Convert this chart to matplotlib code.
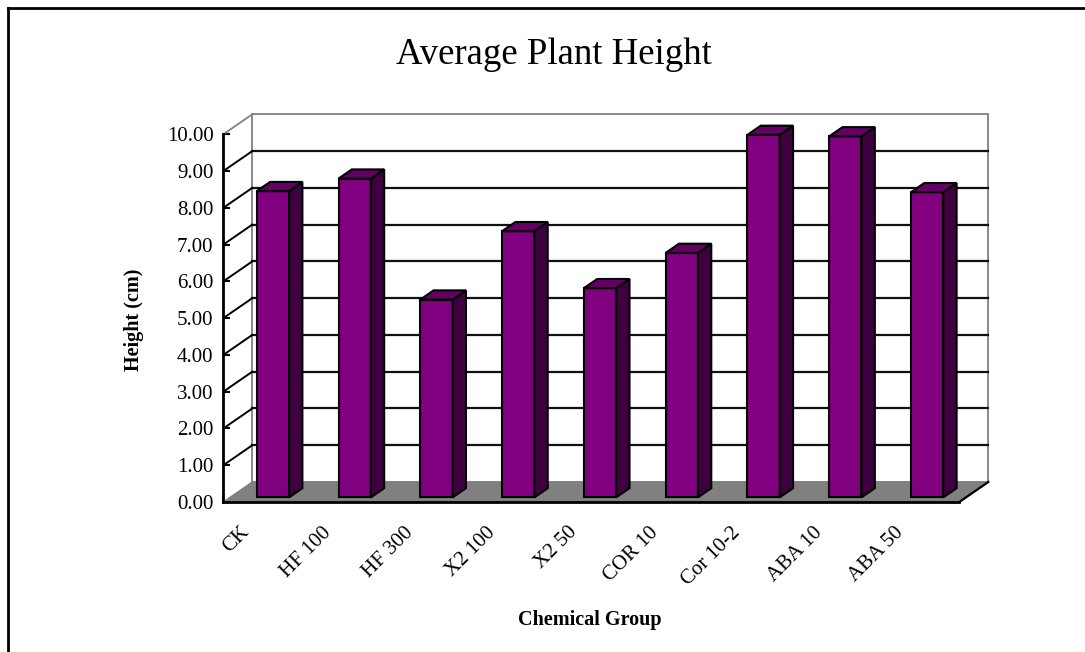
import matplotlib
matplotlib.use("Agg")
import matplotlib.pyplot as plt
from matplotlib.patches import Polygon
from matplotlib.lines import Line2D

# Chart data
categories = ["CK", "HF 100", "HF 300", "X2 100", "X2 50", "COR 10", "Cor 10-2", "ABA 10", "ABA 50"]
heights = [8.33, 8.67, 5.38, 7.24, 5.69, 6.65, 9.86, 9.82, 8.30]
y_ticks = [0, 1, 2, 3, 4, 5, 6, 7, 8, 9, 10]

plt.rcParams["font.family"] = ["Liberation Serif", "DejaVu Serif"]

W, H = 1085, 652
fig = plt.figure(figsize=(W / 100, H / 100), dpi=100)
fig.patch.set_facecolor("white")

# front plane of the 3D box (category units x value units)
ax = fig.add_axes([223.3 / W, 1 - 502 / H, (959.3 - 223.3) / W, (502 - 134.3) / H])
n = len(categories)
ax.set_xlim(0, n)
ax.set_ylim(0, 10)
ax.set_facecolor("none")

# oblique depth vector expressed in data units (one full depth step)
DX = 29 / ((959.3 - 223.3) / n)
DY = 20 / ((502 - 134.3) / 10)


def P(x, y, d):
    return (x + d * DX, y + d * DY)


GRAY = "#808080"

# back wall
ax.add_patch(Polygon([P(0, 0, 1), P(n, 0, 1), P(n, 10, 1), P(0, 10, 1)], closed=True,
                     facecolor="white", edgecolor=GRAY, lw=1.3, zorder=1, clip_on=False))
# gridlines on back wall and matching lines on the side wall
for v in y_ticks[1:-1]:
    ax.add_line(Line2D(*zip(P(0, v, 1), P(n, v, 1)), color="#111111", lw=1.6, zorder=2, clip_on=False))
    ax.add_line(Line2D(*zip(P(0, v, 0), P(0, v, 1)), color="black", lw=1.4, zorder=2, clip_on=False))
ax.add_line(Line2D(*zip(P(0, 10, 0), P(0, 10, 1)), color=GRAY, lw=1.3, zorder=2, clip_on=False))

# floor
ax.add_patch(Polygon([P(0, 0, 0), P(n, 0, 0), P(n, 0, 1), P(0, 0, 1)], closed=True,
                     facecolor=GRAY, edgecolor=GRAY, lw=1.0, zorder=3, clip_on=False))
ax.add_line(Line2D(*zip(P(n, 0, 0), P(n, 0, 1)), color="black", lw=1.6, zorder=3, clip_on=False))

# bars
D0, D1 = 0.23, 0.69
BAR_W = 0.395
BAR_SHIFT = 0.025
FRONT, SIDE, TOP = "#800080", "#3f003f", "#640064"
for i, h in enumerate(heights):
    c = i + 0.5 + BAR_SHIFT
    x0, x1 = c - BAR_W / 2, c + BAR_W / 2
    kw = dict(closed=True, edgecolor="black", lw=1.5, joinstyle="miter", zorder=5 + i, clip_on=False)
    ax.add_patch(Polygon([P(x0, 0, D0), P(x1, 0, D0), P(x1, h, D0), P(x0, h, D0)], facecolor=FRONT, **kw))
    ax.add_patch(Polygon([P(x1, 0, D0), P(x1, 0, D1), P(x1, h, D1), P(x1, h, D0)], facecolor=SIDE, **kw))
    ax.add_patch(Polygon([P(x0, h, D0), P(x1, h, D0), P(x1, h, D1), P(x0, h, D1)], facecolor=TOP, **kw))

# front axes
for s in ("top", "right"):
    ax.spines[s].set_visible(False)
for s in ("left", "bottom"):
    ax.spines[s].set_color("black")
    ax.spines[s].set_linewidth(2.0)
    ax.spines[s].set_zorder(30)

ax.set_yticks(y_ticks)
ax.set_yticklabels([f"{v:.2f}" for v in y_ticks])
ax.tick_params(axis="y", direction="in", length=5, width=1.5, pad=7, labelsize=15)
ax.set_xticks(range(n + 1))
ax.set_xticklabels([])
ax.tick_params(axis="x", direction="in", length=5, width=1.5)

for i, lab in enumerate(categories):
    ax.annotate(lab, xy=(i + 0.5, 0), xycoords="data", xytext=(-24, -21),
                textcoords="offset pixels", rotation=45, rotation_mode="anchor",
                ha="right", va="top", fontsize=15, annotation_clip=False)

# titles
fig.text(554 / W, 1 - 55 / H, "Average Plant Height", ha="center", va="center", fontsize=26.5)
fig.text(134 / W, 1 - 320 / H, "Height (cm)", ha="center", va="center", rotation=90,
         fontsize=14.5, fontweight="bold")
fig.text(590 / W, 1 - 620 / H, "Chemical Group", ha="center", va="center",
         fontsize=14.5, fontweight="bold")

# outer chart frame
fig.add_artist(Line2D([8 / W, 8 / W], [0, 1 - 8 / H], transform=fig.transFigure, color="black", lw=2))
fig.add_artist(Line2D([8 / W, 1], [1 - 8 / H, 1 - 8 / H], transform=fig.transFigure, color="black", lw=2))

fig.savefig("out.png", dpi=100)
